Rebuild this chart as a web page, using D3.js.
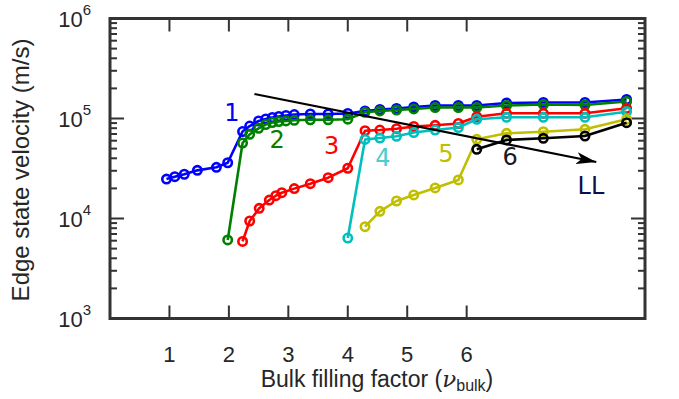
<!DOCTYPE html>
<html>
<head>
<meta charset="utf-8">
<script src="https://cdn.jsdelivr.net/npm/d3@7"></script>
<style>
  body { margin: 0; background: #fff; }
  svg { display: block; }
</style>
</head>
<body>
<div id="chart"></div>
<script>
// bulk filling factor (x) and edge state velocity in m/s (y)
let nu_1 = [0.95, 1.09, 1.25, 1.47, 1.79, 1.98, 2.23, 2.35, 2.50, 2.62, 2.73, 2.84, 2.96, 3.10, 3.37, 3.67, 4.00, 4.29, 4.54, 4.82, 5.11, 5.47, 5.86, 6.17, 6.67, 7.29, 7.99, 8.69];
let vel_1 = [24800, 26200, 27700, 30300, 32500, 36100, 74100, 84100, 94400, 98900, 102300, 104700, 107200, 109600, 110900, 110900, 112200, 118900, 123000, 125900, 130300, 134900, 134900, 134900, 142900, 144500, 144500, 154900];

let nu_2 = [1.98, 2.23, 2.35, 2.50, 2.62, 2.73, 2.84, 2.96, 3.10, 3.37, 3.67, 4.00, 4.29, 4.54, 4.82, 5.11, 5.47, 5.86, 6.17, 6.67, 7.29, 7.99, 8.69];
let vel_2 = [6100, 56900, 69500, 79800, 87100, 91200, 93300, 94500, 95900, 97000, 97000, 98400, 115300, 118900, 121600, 124500, 128800, 128800, 128800, 134900, 138000, 136500, 147900];

let nu_3 = [2.23, 2.35, 2.51, 2.68, 2.79, 2.89, 3.10, 3.37, 3.67, 4.00, 4.29, 4.54, 4.82, 5.11, 5.47, 5.86, 6.17, 6.67, 7.29, 7.99, 8.69];
let vel_3 = [5900, 9440, 12650, 15300, 16900, 18100, 19900, 22300, 25600, 31800, 75500, 76700, 79100, 83200, 85500, 89100, 104200, 112700, 112700, 112700, 126500];

let nu_4 = [4.00, 4.29, 4.54, 4.82, 5.11, 5.47, 5.86, 6.17, 6.67, 7.29, 7.99, 8.69];
let vel_4 = [6380, 61700, 63800, 66400, 72400, 76700, 81300, 98200, 102800, 102800, 102800, 116900];

let nu_5 = [4.29, 4.54, 4.82, 5.11, 5.47, 5.86, 6.17, 6.67, 7.29, 7.99, 8.69];
let vel_5 = [8280, 11800, 14960, 17200, 20200, 24300, 61900, 71100, 73800, 78000, 98200];

let nu_6 = [6.17, 6.67, 7.29, 7.99, 8.69];
let vel_6 = [49200, 61000, 63400, 66800, 90800];

let series_names = ["1", "2", "3", "4", "5", "6"];
let series_colors = ["#0000ff", "#008000", "#ff0000", "#00bfbf", "#bfbf00", "#000000"];
let label_colors = ["#0000ff", "#008000", "#ff0000", "#4ccccc", "#bfbf00", "#1a1a1a"];
// where the series number labels sit (x, y in data units)
let label_nu = [2.05, 2.81, 3.73, 4.59, 5.65, 6.73];
let label_vel = [113500, 61000, 53100, 40300, 44200, 41200];

// Landau level arrow
let arrow_nu = [2.43, 8.18];
let arrow_vel = [175800, 36700];
let ll_nu = 8.09;
let ll_vel = 21100;

let x_ticks = [1, 2, 3, 4, 5, 6];
let y_ticks = [1e3, 1e4, 1e5, 1e6];
let y_exps = ["3", "4", "5", "6"];

let width = 679, height = 399;
let plot_left = 110, plot_right = 645, plot_top = 18.5, plot_bottom = 318.5;
let axis_color = "#333333";
let text_color = "#262626";

let svg = d3.select("#chart").append("svg")
    .attr("width", width)
    .attr("height", height);

let xScale = d3.scaleLinear().domain([0, 9]).range([plot_left, plot_right]);
let yScale = d3.scaleLog().domain([1e3, 1e6]).range([plot_bottom, plot_top]);

// ticks (inward, on all four sides like matlab box)
let minor_ticks = [];
for (let e = 3; e < 6; e++) {
    for (let m = 2; m <= 9; m++) {
        minor_ticks.push(m * Math.pow(10, e));
    }
}

let ticks_g = svg.append("g");

ticks_g.selectAll(".ytick_major")
    .data(y_ticks.slice(1, 3))
    .enter()
    .append("g")
    .each(function(d) {
        let g = d3.select(this);
        g.append("line")
            .attr("x1", plot_left).attr("x2", plot_left + 14)
            .attr("y1", yScale(d)).attr("y2", yScale(d));
        g.append("line")
            .attr("x1", plot_right).attr("x2", plot_right - 14)
            .attr("y1", yScale(d)).attr("y2", yScale(d));
    });

ticks_g.selectAll(".ytick_minor")
    .data(minor_ticks)
    .enter()
    .append("g")
    .each(function(d) {
        let g = d3.select(this);
        g.append("line")
            .attr("x1", plot_left).attr("x2", plot_left + 7)
            .attr("y1", yScale(d)).attr("y2", yScale(d));
        g.append("line")
            .attr("x1", plot_right).attr("x2", plot_right - 7)
            .attr("y1", yScale(d)).attr("y2", yScale(d));
    });

ticks_g.selectAll(".xtick")
    .data(x_ticks)
    .enter()
    .append("g")
    .each(function(d) {
        let g = d3.select(this);
        g.append("line")
            .attr("x1", xScale(d)).attr("x2", xScale(d))
            .attr("y1", plot_bottom).attr("y2", plot_bottom - 13);
        g.append("line")
            .attr("x1", xScale(d)).attr("x2", xScale(d))
            .attr("y1", plot_top).attr("y2", plot_top + 13);
    });

ticks_g.selectAll("line")
    .attr("stroke", axis_color)
    .attr("stroke-width", 2);

// data lines + circle markers
let all_nu = [nu_1, nu_2, nu_3, nu_4, nu_5, nu_6];
let all_vel = [vel_1, vel_2, vel_3, vel_4, vel_5, vel_6];

let line = d3.line()
    .x(function(d) { return xScale(d[0]); })
    .y(function(d) { return yScale(d[1]); });

let data_g = svg.append("g");

for (let s = 0; s < all_nu.length; s++) {
    let pts = all_nu[s].map(function(n, i) { return [n, all_vel[s][i]]; });

    data_g.append("path")
        .datum(pts)
        .attr("d", line)
        .attr("fill", "none")
        .attr("stroke", series_colors[s])
        .attr("stroke-width", 2.6)
        .attr("stroke-linejoin", "round");

    data_g.selectAll(".m" + s)
        .data(pts)
        .enter()
        .append("circle")
        .attr("cx", function(d) { return xScale(d[0]); })
        .attr("cy", function(d) { return yScale(d[1]); })
        .attr("r", 4.2)
        .attr("fill", "none")
        .attr("stroke", series_colors[s])
        .attr("stroke-width", 2.6);
}

// series number labels
svg.selectAll(".series_label")
    .data(series_names)
    .enter()
    .append("text")
    .attr("x", function(d, i) { return xScale(label_nu[i]); })
    .attr("y", function(d, i) { return yScale(label_vel[i]); })
    .attr("dominant-baseline", "central")
    .attr("text-anchor", "middle")
    .attr("font-family", "DejaVu Sans")
    .attr("font-size", "24px")
    .attr("fill", function(d, i) { return label_colors[i]; })
    .text(function(d) { return d; });

// arrow
let defs = svg.append("defs");
defs.append("marker")
    .attr("id", "arrowhead")
    .attr("viewBox", "0 0 20 12")
    .attr("refX", 20)
    .attr("refY", 6)
    .attr("markerWidth", 20)
    .attr("markerHeight", 12)
    .attr("markerUnits", "userSpaceOnUse")
    .attr("orient", "auto")
    .append("path")
    .attr("d", "M0,0 L20,6 L0,12 L5,6 Z")
    .attr("fill", "#000");

svg.append("line")
    .attr("x1", xScale(arrow_nu[0]))
    .attr("y1", yScale(arrow_vel[0]))
    .attr("x2", xScale(arrow_nu[1]))
    .attr("y2", yScale(arrow_vel[1]))
    .attr("stroke", "#000")
    .attr("stroke-width", 2.2)
    .attr("marker-end", "url(#arrowhead)");

svg.append("text")
    .attr("x", xScale(ll_nu))
    .attr("y", yScale(ll_vel))
    .attr("dominant-baseline", "central")
    .attr("text-anchor", "middle")
    .attr("font-family", "DejaVu Sans")
    .attr("font-size", "24px")
    .attr("fill", "#0d0d4d")
    .text("LL");

// box frame
svg.append("rect")
    .attr("x", plot_left)
    .attr("y", plot_top)
    .attr("width", plot_right - plot_left)
    .attr("height", plot_bottom - plot_top)
    .attr("fill", "none")
    .attr("stroke", axis_color)
    .attr("stroke-width", 3);

// tick labels
svg.selectAll(".xlabel")
    .data(x_ticks)
    .enter()
    .append("text")
    .attr("x", function(d) { return xScale(d); })
    .attr("y", 362)
    .attr("text-anchor", "middle")
    .attr("font-family", "Liberation Sans, Arial, sans-serif")
    .attr("font-size", "22px")
    .attr("fill", text_color)
    .text(function(d) { return d; });

let ylabels = svg.selectAll(".ylabel")
    .data(y_ticks)
    .enter()
    .append("text")
    .attr("x", 91)
    .attr("y", function(d) { return yScale(d) + 8; })
    .attr("text-anchor", "end")
    .attr("font-family", "Liberation Sans, Arial, sans-serif")
    .attr("font-size", "22px")
    .attr("fill", text_color);

ylabels.append("tspan").text("10");
ylabels.append("tspan")
    .attr("dy", -12)
    .attr("font-size", "15px")
    .text(function(d, i) { return y_exps[i]; });

// axis titles
svg.append("text")
    .attr("transform", "translate(29,170) rotate(-90)")
    .attr("text-anchor", "middle")
    .attr("font-family", "Liberation Sans, Arial, sans-serif")
    .attr("font-size", "24px")
    .attr("fill", text_color)
    .text("Edge state velocity (m/s)");

let xtitle = svg.append("text")
    .attr("x", 377)
    .attr("y", 387)
    .attr("text-anchor", "middle")
    .attr("font-family", "Liberation Sans, Arial, sans-serif")
    .attr("font-size", "23px")
    .attr("fill", text_color);

xtitle.append("tspan").text("Bulk filling factor (");
xtitle.append("tspan")
    .attr("font-family", "DejaVu Serif")
    .attr("font-style", "italic")
    .text("\u03bd");
xtitle.append("tspan")
    .attr("font-size", "16px")
    .attr("dy", 4)
    .text("bulk");
xtitle.append("tspan")
    .attr("dy", -4)
    .text(")");
</script>
</body>
</html>
